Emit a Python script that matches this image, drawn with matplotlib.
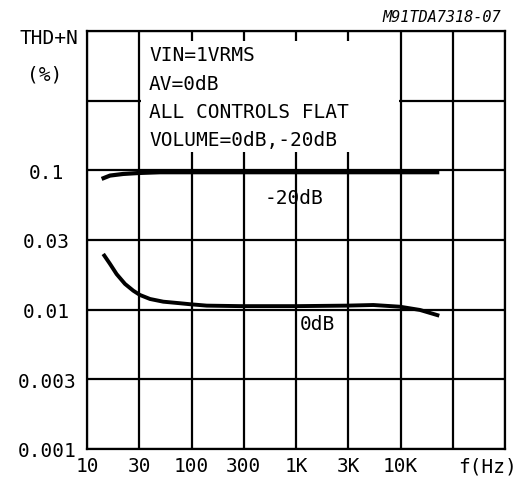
import matplotlib
matplotlib.use("Agg")
import matplotlib.pyplot as plt
from matplotlib.patches import Rectangle

# ---- data ----
freq_0db = [14.3, 16.6, 19.2, 23.1, 27.7, 32.1, 40.1, 53.7, 77.6, 96.7, 139.8,
            300, 1000, 3055, 5495, 9890, 15380, 23500]
thd_0db = [0.0251, 0.0213, 0.0180, 0.0153, 0.01369, 0.01275, 0.01193, 0.01141,
           0.01112, 0.01094, 0.01069, 0.0106, 0.0106, 0.01069, 0.0108, 0.0105,
           0.00995, 0.00905]
freq_m20db = [13.8, 16.6, 22.2, 32.1, 49.9, 100, 1000, 10000, 23500]
thd_m20db = [0.0868, 0.0917, 0.0942, 0.0958, 0.0969, 0.0969, 0.0969, 0.0969, 0.0969]

x_ticks = [10, 10**1.5, 100, 10**2.5, 1000, 10**3.5, 10000, 10**4.5, 100000]
x_labels = ["10", "30", "100", "300", "1K", "3K", "10K", "", ""]
y_ticks = [0.001, 10**-2.5, 0.01, 10**-1.5, 0.1, 10**-0.5, 1.0]
y_labels = ["0.001", "0.003", "0.01", "0.03", "0.1", "", ""]

info_lines = ["VIN=1VRMS", "AV=0dB", "ALL CONTROLS FLAT", "VOLUME=0dB,-20dB"]

FONT = "DejaVu Sans Mono"
FS = 14

fig = plt.figure(figsize=(5.18, 4.81), dpi=100)
W, H = 518, 481
ax = fig.add_axes([87 / W, 1 - 450 / H, (505 - 87) / W, (450 - 32) / H])
ax.set_xscale("log")
ax.set_yscale("log")
ax.set_xlim(10, 100000)
ax.set_ylim(0.001, 1.0)
ax.minorticks_off()
ax.set_xticks(x_ticks)
ax.set_xticklabels(x_labels, fontfamily=FONT, fontsize=FS)
ax.set_yticks(y_ticks)
ax.set_yticklabels(y_labels, fontfamily=FONT, fontsize=FS, ha="center")
ax.tick_params(axis="both", length=0)
ax.tick_params(axis="y", pad=29)
ax.tick_params(axis="x", pad=5)
ax.grid(True, color="black", linewidth=1.6, zorder=1)
ax.set_axisbelow(True)
for s in ax.spines.values():
    s.set_linewidth(1.6)
    s.set_zorder(5)

# white box hiding grid behind the info text
ax.add_patch(Rectangle((10**1.52, 0.1355), 10**3.985 - 10**1.52, 0.849 - 0.1355,
                       facecolor="white", edgecolor="none", zorder=2))

ax.plot(freq_m20db, thd_m20db, color="black", linewidth=3.0, zorder=4,
        solid_capstyle="butt")
ax.plot(freq_0db, thd_0db, color="black", linewidth=2.8, zorder=4,
        solid_capstyle="butt")

def px(x, y):
    return (x - 87) / 418, (450 - y) / 418

ys = [56, 85, 113, 141]
for line, yy in zip(info_lines, ys):
    ax.text(*px(149, yy), line, transform=ax.transAxes, fontfamily=FONT,
            fontsize=FS, ha="left", va="center", zorder=6)

ax.text(*px(294, 199), "-20dB", transform=ax.transAxes, fontfamily=FONT,
        fontsize=FS, ha="center", va="center", zorder=6)
ax.text(*px(300, 325), "0dB", transform=ax.transAxes, fontfamily=FONT,
        fontsize=FS, ha="left", va="center", zorder=6)
ax.text(*px(487, 467), "f(Hz)", transform=ax.transAxes, fontfamily=FONT,
        fontsize=FS, ha="center", va="center", clip_on=False)

fig.text(49 / W, 1 - 39 / H, "THD+N", fontfamily=FONT, fontsize=FS,
         ha="center", va="center")
fig.text(45 / W, 1 - 75 / H, "(%)", fontfamily=FONT, fontsize=FS,
         ha="center", va="center")
fig.text(501 / W, 1 - 17 / H, "M91TDA7318-07", fontfamily=FONT, fontsize=11,
         style="italic", ha="right", va="center")

fig.savefig("out.png", dpi=100)
